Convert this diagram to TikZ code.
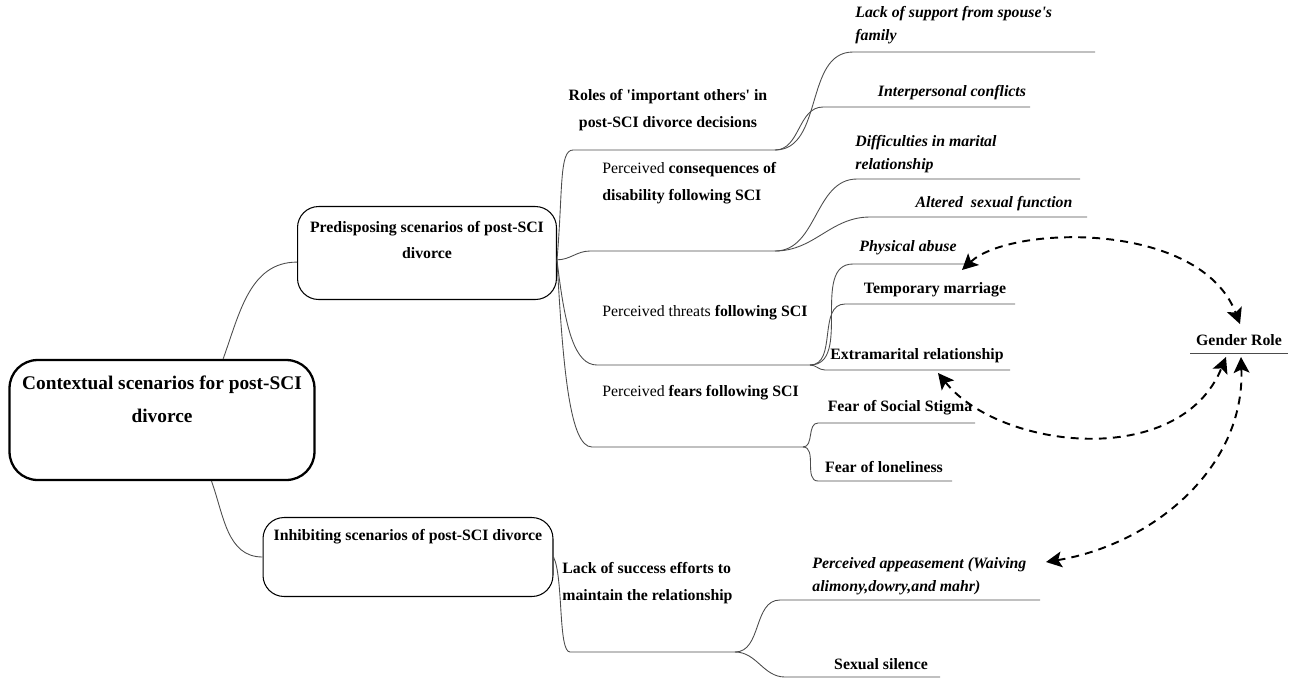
\documentclass[tikz,border=0pt]{standalone}
\usepackage{fontspec}
\setmainfont{Liberation Serif}
\usetikzlibrary{arrows.meta}
\begin{document}
\begin{tikzpicture}[x=0.02cm,y=-0.02cm]
  \tikzstyle{box}=[draw,rounded corners=12pt,line width=0.6pt]
  \tikzstyle{branch}=[draw=black!70,line width=0.5pt]
  \tikzstyle{lbl}=[font=\fontsize{9}{15.3}\selectfont\bfseries,inner sep=0pt]
  \tikzstyle{ilbl}=[font=\fontsize{9}{13}\selectfont\bfseries\itshape,inner sep=0pt]
  \tikzstyle{link}=[line width=1.1pt,dash pattern=on 4.5pt off 3.5pt,{Stealth[length=9pt,width=9pt,inset=2pt]}-{Stealth[length=9pt,width=9pt,inset=2pt]}]
  \useasboundingbox (0,0) rectangle (1289,681);
  \node[box,line width=1.3pt,rounded corners=16pt,minimum width=6.1cm,minimum height=2.4cm] (root) at (162,420) {};
  \node[font=\fontsize{11}{18.7}\selectfont\bfseries,align=center,inner sep=0pt] (roottxt) at (162,399) {Contextual scenarios for post-SCI\\divorce};
  \node[box,minimum width=5.18cm,minimum height=1.86cm] (pre) at (427,253) {};
  \node[lbl,align=center] (pretxt) at (427,240) {Predisposing scenarios of post-SCI\\divorce};
  \node[box,minimum width=5.8cm,minimum height=1.58cm] (inh) at (408,557) {};
  \node[lbl] (inhtxt) at (408,537) {Inhibiting scenarios of post-SCI divorce};
  \node[lbl,align=center] (roles) at (668,110) {Roles of \textquotesingle important others\textquotesingle{} in\\post-SCI divorce decisions};
  \node[lbl,align=left,anchor=west] (cons) at (602,183) {{\mdseries Perceived} consequences of\\disability following SCI};
  \node[lbl,anchor=west] (threat) at (602,313) {{\mdseries Perceived threats} following SCI};
  \node[lbl,anchor=west] (fears) at (602,393) {{\mdseries Perceived} fears following SCI};
  \node[lbl,align=left,anchor=west] (effort) at (562,583) {Lack of success efforts to\\maintain the relationship};
  \node[ilbl,align=left,anchor=west] (lack) at (855,25) {Lack of support from spouse\textquotesingle s\\family};
  \node[ilbl] (inter) at (952,93) {Interpersonal conflicts};
  \node[ilbl,align=left,anchor=west] (diff) at (855,154) {Difficulties in marital\\relationship};
  \node[ilbl] (alt) at (994,204) {Altered\ \ sexual function};
  \node[ilbl] (phys) at (908,248) {Physical abuse};
  \node[lbl] (temp) at (935,290) {Temporary marriage};
  \node[lbl] (extra) at (917,356) {Extramarital relationship};
  \node[lbl] (stigma) at (900,408) {Fear of Social Stigma};
  \node[lbl] (lonely) at (884,467) {Fear of loneliness};
  \node[ilbl,align=left,anchor=west] (appease) at (812,576) {Perceived appeasement (Waiving\\alimony,dowry,and mahr)};
  \node[lbl] (silence) at (881,664) {Sexual silence};
  \node[lbl] (gender) at (1239,340) {Gender Role};
  \coordinate (roles-a) at (573,150); \coordinate (roles-b) at (775,150);
  \coordinate (cons-a) at (590,251); \coordinate (cons-b) at (775,251);
  \coordinate (threat-a) at (597,365); \coordinate (threat-b) at (810,365);
  \coordinate (fears-a) at (592,447); \coordinate (fears-b) at (803,447);
  \coordinate (effort-a) at (570,652); \coordinate (effort-b) at (735,652);
  \coordinate (lack-a) at (853,52); \coordinate (lack-b) at (1095,52);
  \coordinate (inter-a) at (823,107); \coordinate (inter-b) at (1030,107);
  \coordinate (diff-a) at (857,179); \coordinate (diff-b) at (1080,179);
  \coordinate (alt-a) at (870,217); \coordinate (alt-b) at (1087,217);
  \coordinate (phys-a) at (853,264); \coordinate (phys-b) at (965,264);
  \coordinate (temp-a) at (845,304); \coordinate (temp-b) at (1015,304);
  \coordinate (extra-a) at (825,370); \coordinate (extra-b) at (1010,370);
  \coordinate (stigma-a) at (818,423); \coordinate (stigma-b) at (975,423);
  \coordinate (lonely-a) at (818,481); \coordinate (lonely-b) at (952,481);
  \coordinate (appease-a) at (780,600); \coordinate (appease-b) at (1040,600);
  \coordinate (silence-a) at (785,677); \coordinate (silence-b) at (940,677);
  \coordinate (gender-a) at (1190,353); \coordinate (gender-b) at (1288,353);
  \draw[branch] (root.45) to[out=70,in=180] (pre.184);
  \draw[branch] (root.-51) to[out=-70,in=180] (inh.west);
  \draw[branch] (pre.-3) .. controls +(6,-70) and +(-14,0) .. (roles-a) -- (roles-b);
  \draw[branch] (pre.-3) to[out=0,in=180] (cons-a) -- (cons-b);
  \draw[branch] (pre.-3) .. controls +(8,70) and +(-22,0) .. (threat-a) -- (threat-b);
  \draw[branch] (pre.-3) .. controls +(6,110) and +(-22,0) .. (fears-a) -- (fears-b);
  \draw[branch] (inh.east) .. controls +(10,20) and +(-12,0) .. (effort-a) -- (effort-b);
  \draw[branch] (roles-b) to[out=0,in=180] (lack-a) -- (lack-b);
  \draw[branch] (roles-b) to[out=0,in=180] (inter-a) -- (inter-b);
  \draw[branch] (cons-b) to[out=0,in=180] (diff-a) -- (diff-b);
  \draw[branch] (cons-b) to[out=0,in=180] (alt-a) -- (alt-b);
  \draw[branch] (threat-b) to[out=0,in=180] (phys-a) -- (phys-b);
  \draw[branch] (threat-b) to[out=0,in=180] (temp-a) -- (temp-b);
  \draw[branch] (threat-b) to[out=0,in=180] (extra-a) -- (extra-b);
  \draw[branch] (fears-b) to[out=0,in=180] (stigma-a) -- (stigma-b);
  \draw[branch] (fears-b) to[out=0,in=180] (lonely-a) -- (lonely-b);
  \draw[branch] (effort-b) to[out=0,in=180] (appease-a) -- (appease-b);
  \draw[branch] (effort-b) to[out=0,in=180] (silence-a) -- (silence-b);
  \draw[branch] (gender-a) -- (gender-b);
  \coordinate (phys-tip) at (962,270);
  \coordinate (extra-tip) at (938,373);
  \coordinate (appease-tip) at (1046,562);
  \coordinate (gender-top) at (1240,324);
  \coordinate (gender-left) at (1226,357);
  \coordinate (gender-mid) at (1241,357);
  \draw[link] (phys-tip) .. controls (1010,225) and (1200,220) .. (gender-top);
  \draw[link] (extra-tip) .. controls (1000,450) and (1180,470) .. (gender-left);
  \draw[link] (appease-tip) .. controls (1150,545) and (1245,470) .. (gender-mid);
\end{tikzpicture}
\end{document}
